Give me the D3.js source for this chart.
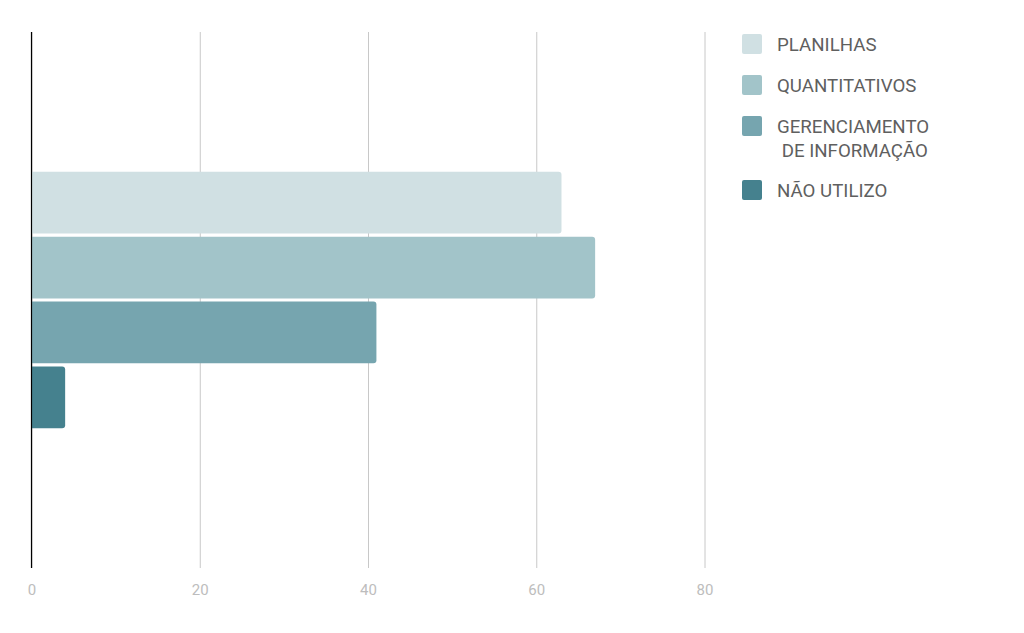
<!DOCTYPE html>
<html>
<head>
<meta charset="utf-8">
<script src="https://cdn.jsdelivr.net/npm/d3@7"></script>
<style>
  body { margin: 0; background: #fff; }
  text { font-family: Roboto, "Noto Sans", sans-serif; }
</style>
</head>
<body>
<div id="canvas"></div>
<script>
const categories = [""];
const series = ["PLANILHAS", "QUANTITATIVOS", "GERENCIAMENTO\n DE INFORMAÇÃO", "NÃO UTILIZO"];
const values = [63, 67, 41, 4];
const colors = ["#d0e0e3", "#a2c4c9", "#76a5af", "#45818e"];
const xTicks = [0, 20, 40, 60, 80];

const width = 1024;
const height = 633;
const plotLeft = 31.5;
const plotRight = 704.5;
const plotTop = 32;
const plotBottom = 568;

const xScale = d3.scaleLinear([0, 80], [plotLeft, plotRight]);
const yScale = d3.scaleBand(categories, [plotTop, plotBottom]).paddingInner(0).paddingOuter(0.544);
const ySeries = d3.scaleBand(d3.range(series.length), [0, yScale.bandwidth()]).paddingInner(0.05);

const svg = d3
  .select("#canvas")
  .append("svg")
  .attr("width", width)
  .attr("height", height)
  .attr("viewBox", [0, 0, width, height]);

// grid + tick labels
const xAxis = d3.axisBottom(xScale).tickValues(xTicks).tickSize(-(plotBottom - plotTop)).tickPadding(16);
svg
  .append("g")
  .attr("transform", `translate(0,${plotBottom})`)
  .call(xAxis)
  .call((g) => g.select(".domain").remove())
  .call((g) => g.selectAll(".tick line").attr("stroke", "#c8c8c8"))
  .call((g) =>
    g.selectAll(".tick text").attr("fill", "#bdbdbd").style("font-size", "15px")
  );

// bars, rounded on the right end only
const r = 3;
function barPath(x0, y0, x1, h) {
  const rr = Math.min(r, (x1 - x0) / 2);
  return `M${x0},${y0}H${x1 - rr}Q${x1},${y0} ${x1},${y0 + rr}V${y0 + h - rr}Q${x1},${y0 + h} ${x1 - rr},${y0 + h}H${x0}Z`;
}

svg
  .append("g")
  .selectAll("path")
  .data(values)
  .join("path")
  .attr("fill", (d, i) => colors[i])
  .attr("d", (d, i) =>
    barPath(xScale(0), yScale("") + ySeries(i), xScale(d), ySeries.bandwidth())
  );

// baseline
svg
  .append("line")
  .attr("x1", xScale(0))
  .attr("x2", xScale(0))
  .attr("y1", plotTop)
  .attr("y2", plotBottom)
  .attr("stroke", "#000")
  .attr("stroke-width", 1.2);

// legend
const legendY = [34, 75, 116, 180];
const legend = svg
  .append("g")
  .selectAll("g")
  .data(series)
  .join("g")
  .attr("transform", (d, i) => `translate(742,${legendY[i]})`);

legend
  .append("rect")
  .attr("width", 20)
  .attr("height", 20)
  .attr("rx", 2)
  .attr("fill", (d, i) => colors[i]);

legend
  .append("text")
  .attr("fill", "#5f5f5f")
  .style("font-size", "18.7px")
  .style("white-space", "pre")
  .selectAll("tspan")
  .data((d) => d.split("\n"))
  .join("tspan")
  .attr("x", 35)
  .attr("y", (d, i) => 17 + i * 24)
  .text((d) => d);
</script>
</body>
</html>
